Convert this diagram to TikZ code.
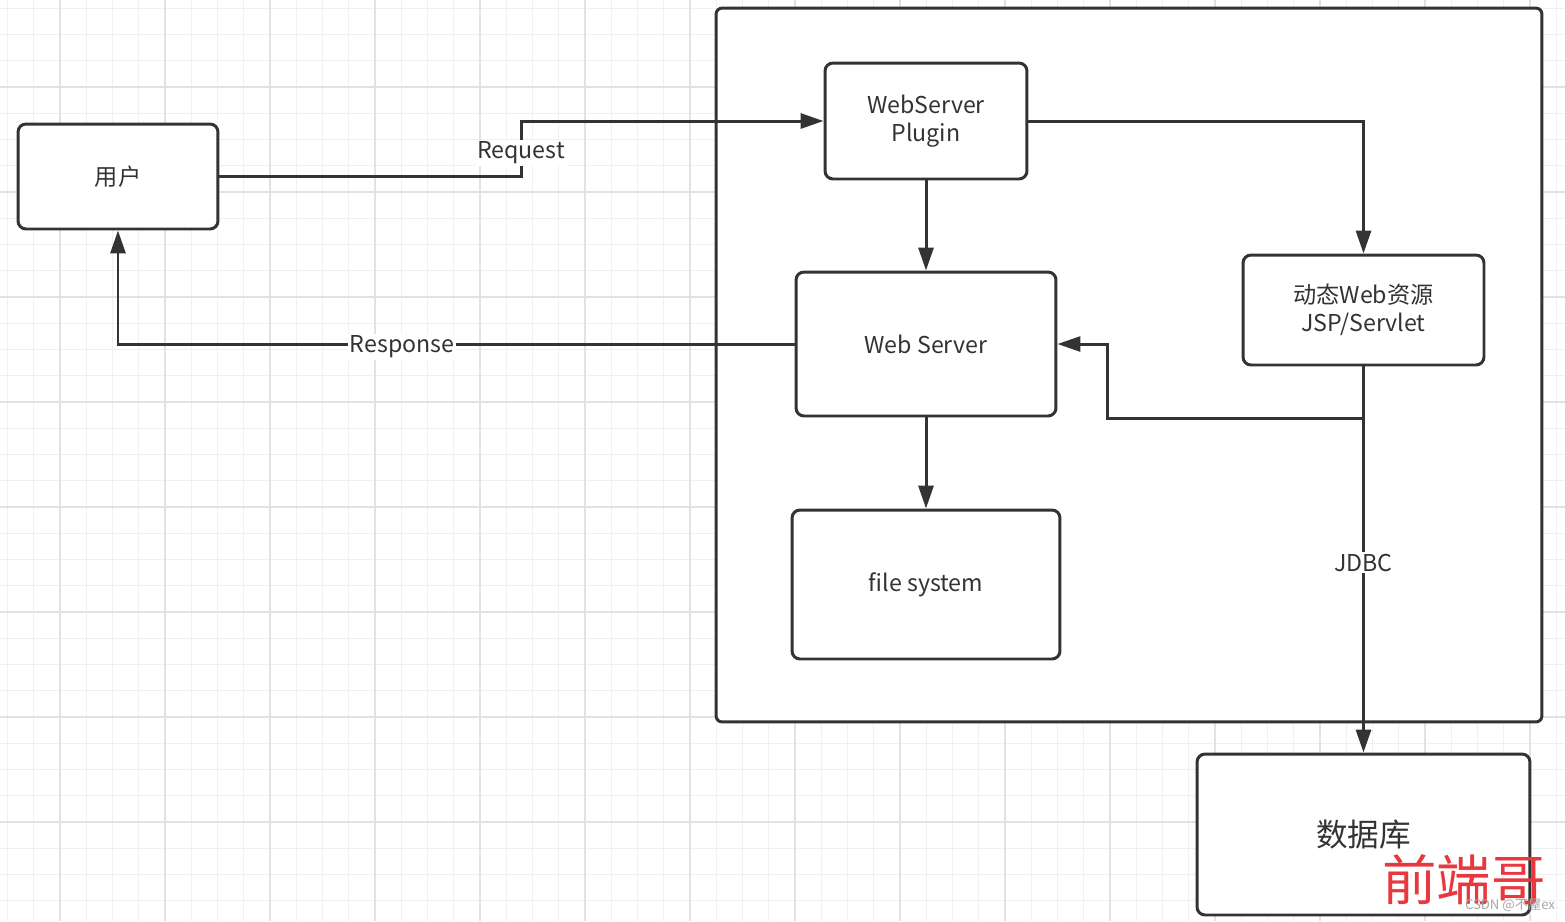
\documentclass[tikz,border=0pt]{standalone}
\usepackage{fontspec}
\setmainfont{Noto Sans CJK SC}
\usepackage{xcolor}
\usetikzlibrary{arrows.meta}

\definecolor{ink}{HTML}{333333}
\definecolor{gridminor}{HTML}{F0F0F0}
\definecolor{gridmajor}{HTML}{E2E2E2}
\definecolor{markred}{HTML}{E8383D}

\tikzset{
	box/.style={draw=ink, line width=1.7pt, fill=white, rounded corners=0.16cm,
		text=ink, align=center, font=\fontsize{13.2pt}{16pt}\selectfont},
	conn/.style={draw=ink, line width=1.7pt, -{Triangle[length=0.46cm,width=0.3cm]}},
	lbl/.style={fill=white, text=ink, inner sep=1pt, yshift=-1.7pt,
		font=\fontsize{13.2pt}{16pt}\selectfont}
}

\begin{document}
\begin{tikzpicture}[x=0.02cm, y=-0.02cm]
	\useasboundingbox (0,0) rectangle (1565,921);
	\fill[white] (0,0) rectangle (1565,921);
	% grid
	\foreach \i in {0,...,59}
		\draw[gridminor, line width=0.6pt] ({7.5+26.25*\i},0) -- ({7.5+26.25*\i},921);
	\foreach \i in {0,...,34}
		\draw[gridminor, line width=0.6pt] (0,{8.25+26.25*\i}) -- (1565,{8.25+26.25*\i});
	\foreach \i in {0,...,14}
		\draw[gridmajor, line width=0.8pt] ({60+105*\i},0) -- ({60+105*\i},921);
	\foreach \i in {0,...,7}
		\draw[gridmajor, line width=0.8pt] (0,{87+105*\i}) -- (1565,{87+105*\i});

	\node[draw=ink, line width=1.7pt, fill=white, rounded corners=0.12cm,
		minimum width=16.52cm, minimum height=14.28cm] (container) at (1129,365) {};

	\node[box, minimum width=4cm, minimum height=2.1cm] (user) at (118,176.5) {用户};
	\node[box, minimum width=4.04cm, minimum height=2.32cm] (plugin) at (926,121) {WebServer\\Plugin};
	\node[box, minimum width=5.2cm, minimum height=2.88cm] (webserver) at (926,344) {Web Server};
	\node[box, minimum width=5.36cm, minimum height=2.98cm] (filesys) at (926,584.5) {file system};
	\node[box, minimum width=4.82cm, minimum height=2.2cm] (dynres) at (1363.5,310) {动态Web资源\\JSP/Servlet};
	\node[box, minimum width=6.66cm, minimum height=3.22cm, font=\fontsize{18pt}{22pt}\selectfont] (db) at (1363.5,834.5) {数据库};

	\coordinate (reqbend) at (521,150);
	\coordinate (retbend) at (1107,418);

	\draw[conn] (user.east) -| (reqbend) node[lbl] {Request} |- (plugin.west);
	\draw[conn] (webserver.west) -| node[lbl, pos=0.29] {Response} (user.south);
	\draw[conn] (plugin.east) -| (dynres.north);
	\draw[conn] (plugin.south) -- (webserver.north);
	\draw[conn] (webserver.south) -- (filesys.north);
	\draw[conn] (dynres.south) |- (retbend) |- (webserver.east);
	\draw[conn] (dynres.south) -- node[lbl] {JDBC} (db.north);

	% watermark
	\node[text=markred, inner sep=0pt, font=\fontsize{31pt}{31pt}\selectfont] (mark) at (1464,880) {前端哥};
	\node[text=gray!70, inner sep=0pt, font=\fontsize{7.5pt}{7.5pt}\selectfont] (csdn) at (1510,905) {CSDN @不屋ex};
\end{tikzpicture}
\end{document}
